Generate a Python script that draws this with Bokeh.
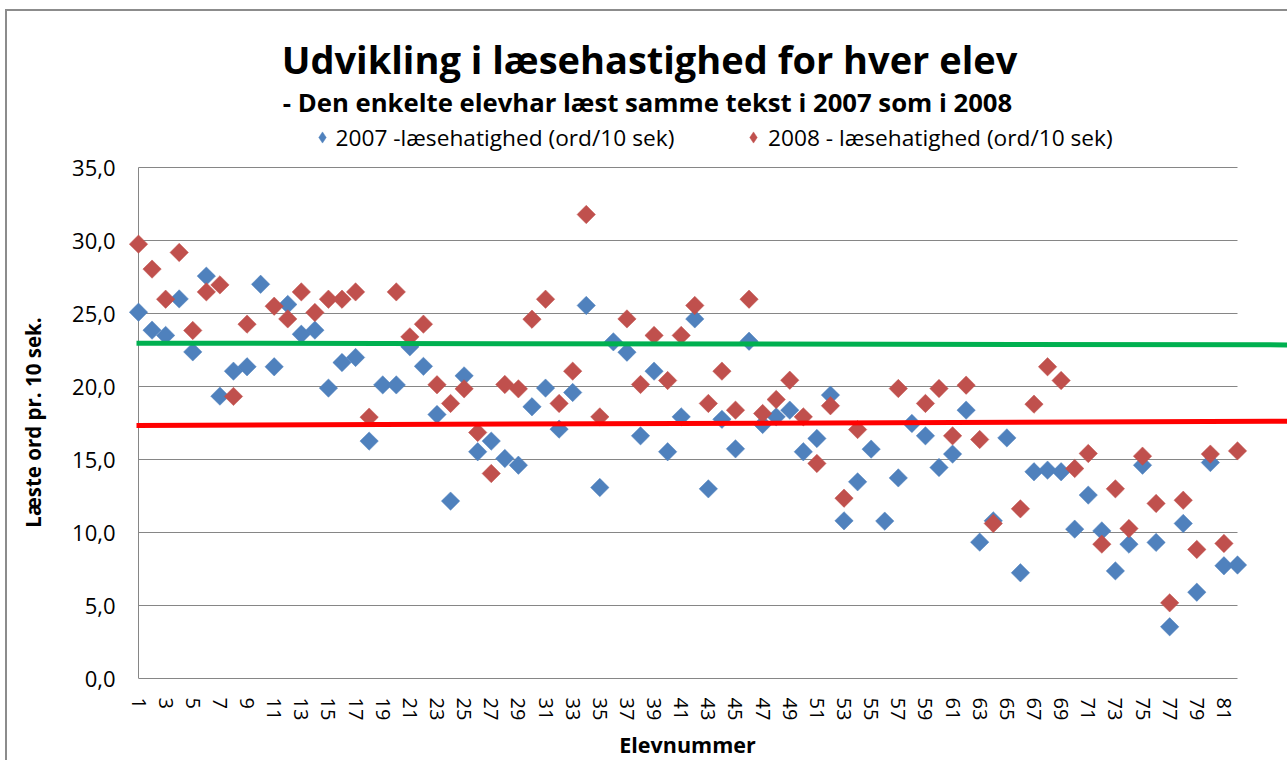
import math
from bokeh.plotting import figure
from bokeh.layouts import column
from bokeh.models import FixedTicker, Label, Legend, LegendItem, Range1d
from bokeh.embed import file_html
from bokeh.resources import INLINE

NaN = float("nan")

# ---------------- data ----------------
students = list(range(1, 83))

speed_2007 = [
    25.09, 23.86, 23.50, 26.00, 22.37, 27.56, 19.34, 21.05, 21.35, 27.00,
    21.35, 25.62, 23.58, 23.86, 19.89, 21.64, 21.99, 16.26, 20.11, 20.11,
    22.72, 21.38, 18.08, 12.15, 20.73, 15.53, 16.26, 15.07, 14.61, 18.61,
    19.89, 17.08, 19.59, 25.55, 13.08, 23.06, 22.35, 16.62, 21.05, 15.53,
    17.92, 24.63, 12.99, 17.75, 15.73, 23.10, 17.40, 17.92, 18.38, 15.53,
    16.44, 19.41, 10.80, 13.47, 15.71, 10.78, 13.74, 17.47, 16.62, 14.45,
    15.37, 18.38, 9.34, 10.80, 16.48, 7.24, 14.16, 14.27, 14.16, 10.23,
    12.56, 10.11, 7.37, 9.20, 14.61, 9.32, 3.54, 10.62, 5.91, 14.79,
    7.72, 7.77,
]

speed_2008 = [
    29.75, 28.04, 25.98, 29.18, 23.84, 26.48, 26.96, 19.32, 24.27, NaN,
    25.50, 24.63, 26.48, 25.07, 25.98, 25.98, 26.48, 17.90, NaN, 26.48,
    23.40, 24.27, 20.12, 18.84, 19.84, 16.85, 14.04, 20.14, 19.84, 24.61,
    25.98, 18.84, 21.05, 31.78, 17.92, NaN, 24.63, 20.14, 23.50, 20.41,
    23.50, 25.55, 18.84, 21.05, 18.38, 25.98, 18.15, 19.11, 20.43, 17.92,
    14.73, 18.68, 12.35, 17.05, NaN, NaN, 19.86, NaN, 18.84, 19.86,
    16.62, 20.09, 16.37, 10.62, NaN, 11.62, 18.79, 21.35, 20.41, 14.38,
    15.41, 9.20, 12.99, 10.27, 15.23, 11.99, 5.18, 12.21, 8.84, 15.37,
    9.25, 15.59,
]

y_ticks = [0, 5, 10, 15, 20, 25, 30, 35]
y_tick_labels = ["0,0", "5,0", "10,0", "15,0", "20,0", "25,0", "30,0", "35,0"]
x_ticks = students[::2]

# two drawn reference lines (values at left and right end)
green_line = [22.97, 22.85]
red_line = [17.33, 17.62]

title = "Udvikling i læsehastighed for hver elev"
subtitle = "- Den enkelte elevhar læst samme tekst i 2007 som i 2008"
label_2007 = "2007 -læsehatighed (ord/10 sek)"
label_2008 = "2008 - læsehatighed (ord/10 sek)"
x_title = "Elevnummer"
y_title = "Læste ord pr. 10 sek."

# ---------------- style ----------------
FONT = "Open Sans"
BLUE = "#4F81BD"
RED = "#C0504D"
GRID = "#868686"
BORDER = "#8c8c8c"
OX, OY = 7, 11                      # content origin on the page (margin + border)
FRAME_L, FRAME_R = 128, 1287        # page x of plot frame
FRAME_T, FRAME_B = 166, 678         # page y of plot frame
HDR_BOTTOM = 152
FTR_TOP = 728
PAGE_H = 760
PX_PER_CAT = 1099 / 81.0
PX_PER_UNIT = 511 / 35.0
x_start = 1 - 10 / PX_PER_CAT
x_end = x_start + (FRAME_R - FRAME_L) / PX_PER_CAT
y_end = (FRAME_B - FRAME_T) / PX_PER_UNIT
W = FRAME_R - OX

MARKER = dict(marker="square", angle=math.pi / 4, size=13, line_width=0.5)
KEY = dict(marker="diamond", size=13, line_width=0.5)


def blank(height, y0, y1):
    f = figure(
        width=W, height=height, output_backend="svg", toolbar_location=None,
        x_range=Range1d(FRAME_L, FRAME_R), y_range=Range1d(y1, y0),
        x_axis_location=None, y_axis_location=None,
        min_border=0, min_border_left=FRAME_L - OX, min_border_right=0,
        outline_line_color=None,
    )
    f.xgrid.visible = False
    f.ygrid.visible = False
    return f


# ---------------- header (title, subtitle, legend) ----------------
hdr = blank(HDR_BOTTOM - OY, OY, HDR_BOTTOM)

hdr.add_layout(Label(x=649, y=58, text=title,
                     text_align="center", text_baseline="middle",
                     text_font=FONT, text_font_size="38px", text_font_style="bold",
                     text_color="black"))
hdr.add_layout(Label(x=647, y=101.7, text=subtitle,
                     text_align="center", text_baseline="middle",
                     text_font=FONT, text_font_size="25.7px", text_font_style="bold",
                     text_color="black"))

k07 = hdr.scatter([NaN], [NaN], fill_color=BLUE, line_color=BLUE, **KEY)
k08 = hdr.scatter([NaN], [NaN], fill_color=RED, line_color=RED, **KEY)


def make_legend(label, renderer, loc, standoff):
    return Legend(
        items=[LegendItem(label=label, renderers=[renderer])],
        location=loc, orientation="horizontal",
        border_line_color=None, background_fill_alpha=0,
        padding=0, margin=0, spacing=0,
        glyph_width=28, glyph_height=28, label_height=28,
        label_standoff=standoff,
        label_text_font=FONT, label_text_font_size="22.7px", label_text_color="black",
    )


hdr.add_layout(make_legend(label_2007, k07, (307.5 - FRAME_L, -0.5), 0))
hdr.add_layout(make_legend(label_2008, k08, (739 - FRAME_L, -0.5), 1))

# ---------------- main chart ----------------
p = figure(
    width=W, height=FTR_TOP - HDR_BOTTOM,
    output_backend="svg", toolbar_location=None,
    x_range=Range1d(x_start, x_end), y_range=Range1d(y_ticks[0], y_end),
    min_border_left=FRAME_L - OX, min_border_right=0,
    min_border_top=FRAME_T - HDR_BOTTOM, min_border_bottom=FTR_TOP - FRAME_B,
    outline_line_color=None,
)
p.xgrid.visible = False
p.ygrid.visible = False

# gridlines limited to the category span
p.segment(x0=students[0], x1=students[-1], y0=y_ticks[1:], y1=y_ticks[1:],
          line_color=GRID, line_width=1)
# y-axis rule at first category
p.segment(x0=[students[0]], x1=[students[0]], y0=[y_ticks[0]], y1=[y_ticks[-1]],
          line_color=GRID, line_width=1)

r07 = p.scatter(students, speed_2007, fill_color=BLUE, line_color=BLUE, **MARKER)
r08 = p.scatter(students, speed_2008, fill_color=RED, line_color=RED, **MARKER)

line_x = [1 - 2 / PX_PER_CAT, x_end]
p.line(line_x, green_line, line_color="#00B050", line_width=5)
p.line(line_x, red_line, line_color="#FF0000", line_width=5)

# axes
xa = p.xaxis[0]
xa.ticker = FixedTicker(ticks=x_ticks)
xa.bounds = (students[0], students[-1])
xa.axis_line_color = GRID
xa.major_tick_line_color = None
xa.minor_tick_line_color = None
xa.major_tick_out = 0
xa.minor_tick_out = 0
xa.major_tick_in = 0
xa.minor_tick_in = 0
xa.major_label_orientation = "vertical"
xa.major_label_standoff = 19
xa.major_label_text_font = FONT
xa.major_label_text_font_size = "20px"
xa.major_label_text_color = "black"

ya = p.yaxis[0]
ya.ticker = FixedTicker(ticks=y_ticks)
ya.major_label_overrides = {t: lab for t, lab in zip(y_ticks, y_tick_labels)}
ya.axis_line_color = None
ya.major_tick_line_color = None
ya.minor_tick_line_color = None
ya.major_tick_out = 0
ya.minor_tick_out = 0
ya.major_tick_in = 0
ya.minor_tick_in = 0
ya.major_label_standoff = 13
ya.major_label_text_font = FONT
ya.major_label_text_font_size = "22px"
ya.major_label_text_color = "black"
ya.axis_label = y_title
ya.axis_label_text_font = FONT
ya.axis_label_text_font_size = "20.5px"
ya.axis_label_text_font_style = "bold"
ya.axis_label_text_color = "black"
ya.axis_label_standoff = 22

# ---------------- footer (x-axis title, centred on the category span) ----------------
ftr = blank(PAGE_H - FTR_TOP, FTR_TOP, PAGE_H)
ftr.add_layout(Label(x=687, y=743.5, text=x_title,
                     text_align="center", text_baseline="middle",
                     text_font=FONT, text_font_size="21.5px", text_font_style="bold",
                     text_color="black"))

layout = column(hdr, p, ftr, spacing=0,
                styles={"margin-left": "5px", "margin-top": "9px",
                        "border-left": "2px solid " + BORDER,
                        "border-top": "2px solid " + BORDER})
open("out.html", "w").write(file_html(layout, INLINE))
